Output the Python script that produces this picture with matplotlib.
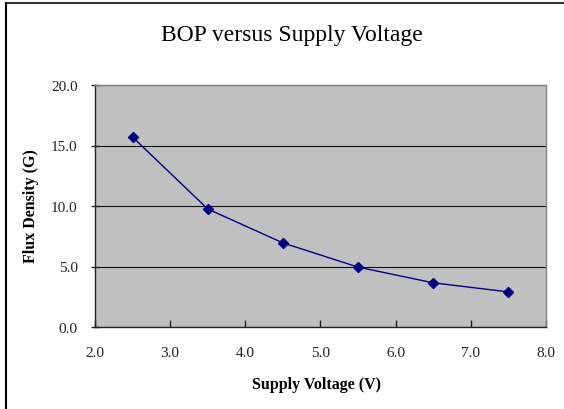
import matplotlib
matplotlib.use("Agg")
import matplotlib.pyplot as plt
from matplotlib.lines import Line2D

voltage = [2.5, 3.5, 4.5, 5.5, 6.5, 7.5]
flux = [15.7, 9.75, 6.95, 4.95, 3.65, 2.9]
x_ticks = [2.0, 3.0, 4.0, 5.0, 6.0, 7.0, 8.0]
y_ticks = [0.0, 5.0, 10.0, 15.0, 20.0]

plt.rcParams['font.family'] = ['Liberation Serif', 'DejaVu Serif']

fig = plt.figure(figsize=(5.64, 4.10), dpi=100)
ax = fig.add_axes([95/564, 1-328/410, (546-95)/564, (328-86)/410])
ax.set_facecolor('#C0C0C0')

ax.plot(voltage, flux, color='#000080', linewidth=1.0, marker='D', markersize=4.8,
        markerfacecolor='#000080', markeredgecolor='#000080')

ax.set_xlim(2.0, 8.0)
ax.set_ylim(0.0, 20.0)
ax.set_xticks(x_ticks)
ax.set_yticks(y_ticks)
ax.set_xticklabels([f"{v:.1f}" for v in x_ticks])
ax.set_yticklabels([f"{v:.1f}" for v in y_ticks])
ax.tick_params(axis='x', direction='in', length=5, width=1, labelsize=11, pad=14, colors='#222222')
ax.tick_params(axis='y', direction='inout', length=6, width=1, labelsize=11, pad=9.5, colors='#222222')
ax.yaxis.grid(True, color='#111111', linewidth=0.8)
ax.set_axisbelow(True)
for s in ax.spines.values():
    s.set_color('#808080')
    s.set_linewidth(1.0)
ax.spines['left'].set_color('#222222')
ax.spines['bottom'].set_color('#222222')

fig.text(292/564, 1-36/410, 'BOP versus Supply Voltage', ha='center', va='center', fontsize=17)
fig.text(316/564, 1-385/410, 'Supply Voltage (V)', ha='center', va='center', fontsize=11.5, fontweight='bold')
fig.text(31/564, 1-206/410, 'Flux Density (G)', ha='center', va='center', rotation=90, fontsize=11.5, fontweight='bold')

fig.add_artist(Line2D([6/564, 1], [1-3.5/410, 1-3.5/410], color='#333333', linewidth=1.5, transform=fig.transFigure))
fig.add_artist(Line2D([6/564, 6/564], [0, 1-3.5/410], color='#000000', linewidth=1.5, transform=fig.transFigure))

fig.savefig('out.png', dpi=100)
